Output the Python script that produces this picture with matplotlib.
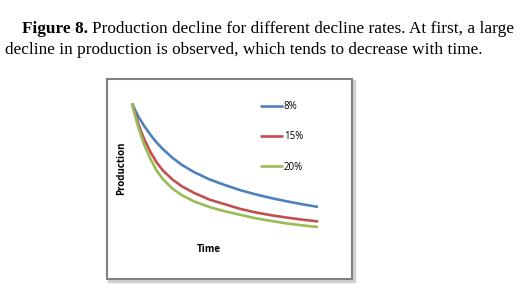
import matplotlib
matplotlib.use('Agg')
import matplotlib.pyplot as plt
from matplotlib.patches import Rectangle

# (time in arbitrary units, production relative to start = 100)
time = [0, 1, 2, 3, 4, 6, 8, 10, 13, 16, 20, 25, 30, 35, 40, 45, 50, 55, 60]
rate_8 = [100, 95.5, 91.3, 87.8, 84.5, 78.5, 73.2, 68.8, 63.0, 58.2, 53.2, 48.2,
	44.3, 40.8, 37.9, 35.4, 33.2, 31.2, 29.4]
rate_15 = [100, 92.8, 86.3, 80.5, 75.3, 66.7, 59.6, 54.2, 48.2, 43.6, 39.0, 34.4,
	31.2, 28.0, 25.6, 23.7, 22.1, 20.7, 19.5]
rate_20 = [100, 91.5, 84.0, 77.5, 71.6, 61.8, 54.0, 48.3, 42.0, 37.5, 33.2, 29.3,
	26.4, 24.0, 21.6, 19.8, 18.1, 16.8, 15.7]
labels = ['8%', '15%', '20%']
colors = ['#4f81bd', '#c0504d', '#9bbb59']

W, H = 524, 295
fig = plt.figure(figsize=(W / 100, H / 100), dpi=100)

def fx(px):
	return px / W

def fy(py):
	return (H - py) / H

# caption
cap1 = fig.text(fx(22), fy(29), 'Figure 8.', fontsize=12.4, fontweight='bold',
	family='Liberation Serif', va='center', ha='left')
fig.canvas.draw()
bb = cap1.get_window_extent(fig.canvas.get_renderer())
fig.text(bb.x1 / W + fx(4), fy(29), 'Production decline for different decline rates. At first, a large',
	fontsize=12.4, family='Liberation Serif', va='center', ha='left')
fig.text(fx(5), fy(50), 'decline in production is observed, which tends to decrease with time.',
	fontsize=12.4, family='Liberation Serif', va='center', ha='left')

# chart area frame with shadow
fig.patches.append(Rectangle((fx(109), fy(281)), fx(352 - 107), (279 - 79) / H,
	transform=fig.transFigure, facecolor='none', edgecolor='#d0d0d0', lw=2.5, zorder=0))
fig.patches.append(Rectangle((fx(107), fy(279)), fx(352 - 107), (279 - 79) / H,
	transform=fig.transFigure, facecolor='white', edgecolor='#808080', lw=1.5, zorder=0))

ax = fig.add_axes([fx(132), fy(250), fx(318 - 132), (250 - 103.5) / H], zorder=2)
ax.set_xlim(0, 60)
ax.set_ylim(0, 100)
ax.axis('off')
ax.patch.set_alpha(0)

for series, lab, c in zip([rate_8, rate_15, rate_20], labels, colors):
	ax.plot(time, series, color=c, lw=1.9, label=lab, clip_on=False, solid_capstyle='butt')

ax.legend(loc='upper left', bbox_to_anchor=(fx(260), fy(101)), bbox_transform=fig.transFigure,
	frameon=False, handlelength=2.4, handletextpad=0.05, labelspacing=2.0,
	borderpad=0, borderaxespad=0, prop={'family': 'Open Sans', 'size': 7})

fig.text(fx(122), fy(168), 'Production', rotation=90, fontsize=7, fontweight='bold',
	family='Open Sans', ha='center', va='center', zorder=3)
fig.text(fx(209), fy(249), 'Time', fontsize=7, fontweight='bold',
	family='Open Sans', ha='center', va='center', zorder=3)

fig.savefig('out.png', dpi=100)
